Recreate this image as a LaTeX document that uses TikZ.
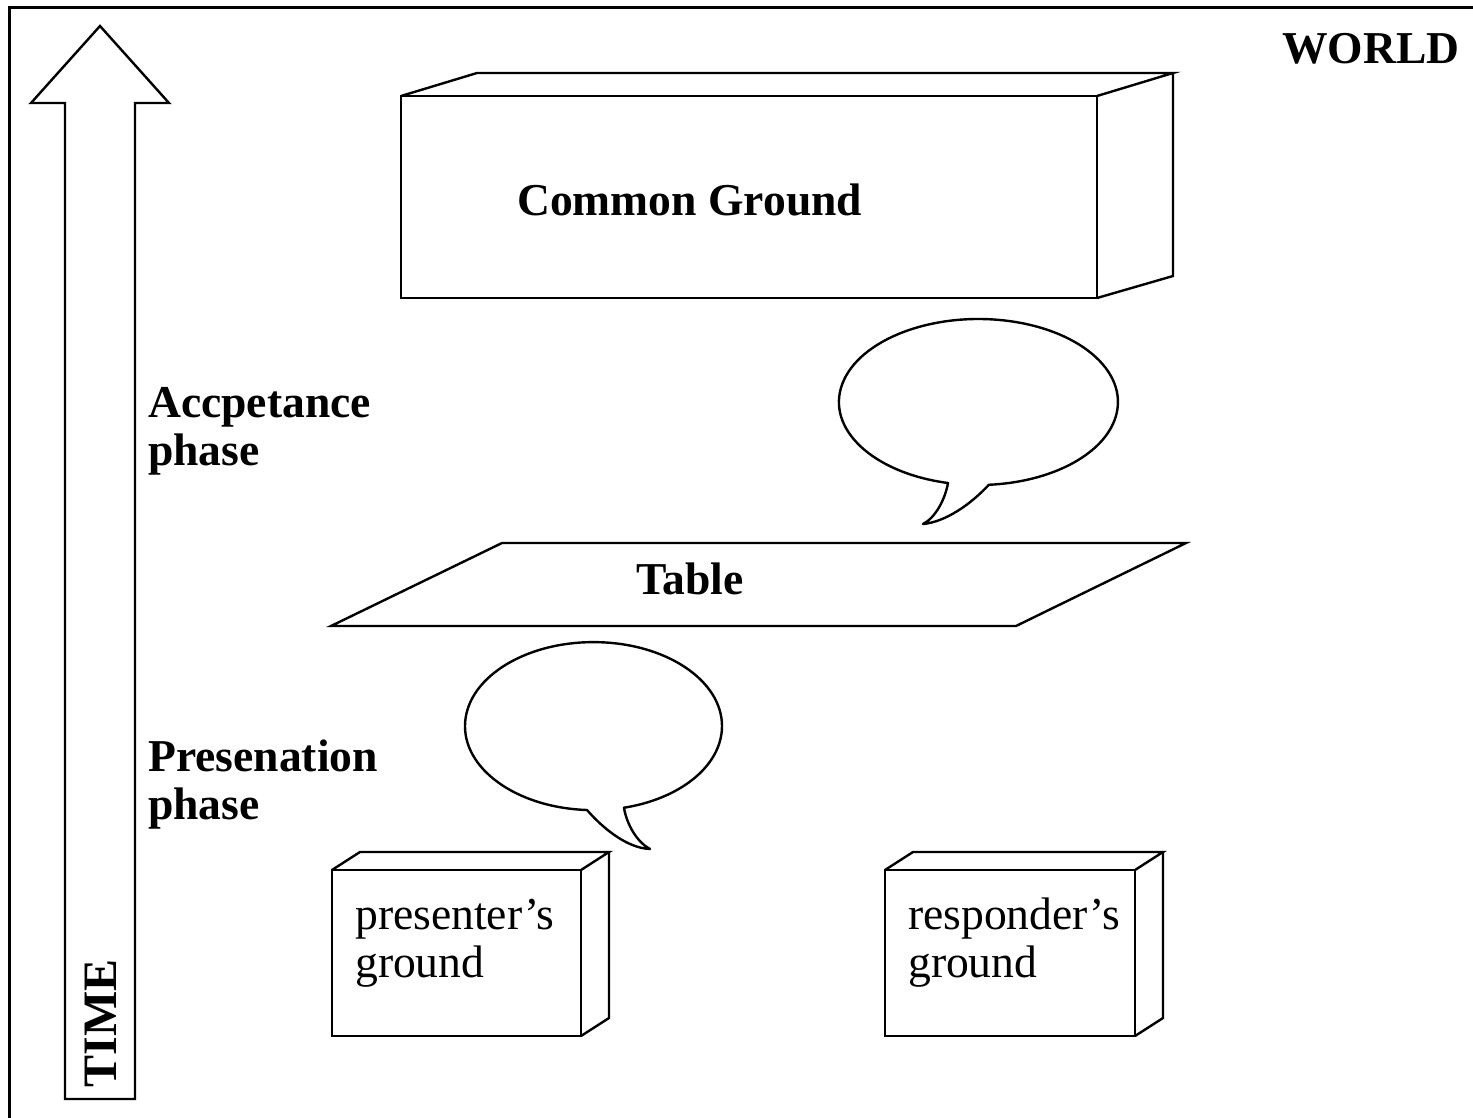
\documentclass[tikz,border=0pt]{standalone}
\usepackage{fontspec}
\setmainfont{Liberation Serif}
\begin{document}
\begin{tikzpicture}[x=1pt,y=-1pt,
  outline/.style={draw=black,line width=2.4pt,line join=miter},
  bubble/.style={draw=black,line width=2.4pt,line join=round,fill=white},
  boldlbl/.style={font=\fontsize{45.6}{49}\selectfont\bfseries,inner sep=0pt,anchor=base west},
  plainlbl/.style={font=\fontsize{45.6}{49}\selectfont,inner sep=0pt,anchor=base west}]
\useasboundingbox (0,0) rectangle (1473,1117);

% world frame (open to the right and bottom)
\draw[line width=3pt] (9,1125) -- (9,7) -- (1480,7);

% time arrow
\draw[line width=2.4pt,line join=miter]
  (100,26) -- (169,103) -- (135,103) -- (135,1099) -- (65,1099) -- (65,103) -- (31,103) -- cycle;

% common ground block
\draw[outline] (401,96) rectangle (1097,298);
\draw[outline] (401,96) -- (477,73) -- (1173,73) -- (1097,96);
\draw[outline] (1173,73) -- (1173,276) -- (1097,298);

% presenter's block
\draw[outline] (332,870) rectangle (581,1036);
\draw[outline] (332,870) -- (360,852) -- (609,852) -- (581,870);
\draw[outline] (609,852) -- (609,1018) -- (581,1036);

% responder's block
\draw[outline] (885,870) rectangle (1135,1036);
\draw[outline] (885,870) -- (913,852) -- (1163,852) -- (1135,870);
\draw[outline] (1163,852) -- (1163,1018) -- (1135,1036);

% table
\draw[outline] (502,543) -- (1186,543) -- (1016,626) -- (331,626) -- cycle;

% upper speech bubble
\draw[bubble] (948,483)
  arc[start angle=102.6, end angle=445.7, x radius=139.5, y radius=83]
  .. controls (970,505) and (945,522) .. (923,524)
  .. controls (935,518) and (945,500) .. cycle;

% lower speech bubble
\draw[bubble] (587,810)
  arc[start angle=92.9, end angle=436.3, x radius=128.5, y radius=84]
  .. controls (627,825) and (637,842) .. (650,849)
  .. controls (625,848) and (600,825) .. cycle;

% labels
\node[boldlbl] (world) at (1282,63) {WORLD};
\node[boldlbl] (cg) at (517,215) {Common Ground};
\node[boldlbl] (tbl) at (636,594) {Table};
\node[boldlbl] (accA) at (148,417) {Accpetance};
\node[boldlbl] (accB) at (148,465) {phase};
\node[boldlbl] (preA) at (148,771) {Presenation};
\node[boldlbl] (preB) at (148,819) {phase};
\node[boldlbl,font=\fontsize{48}{52}\selectfont\bfseries,rotate=90,anchor=base] (time) at (116,1023) {TIME};
\node[plainlbl] (pgA) at (355,929) {presenter’s};
\node[plainlbl] (pgB) at (355,977) {ground};
\node[plainlbl] (rgA) at (908,929) {responder’s};
\node[plainlbl] (rgB) at (908,977) {ground};
\end{tikzpicture}
\end{document}
